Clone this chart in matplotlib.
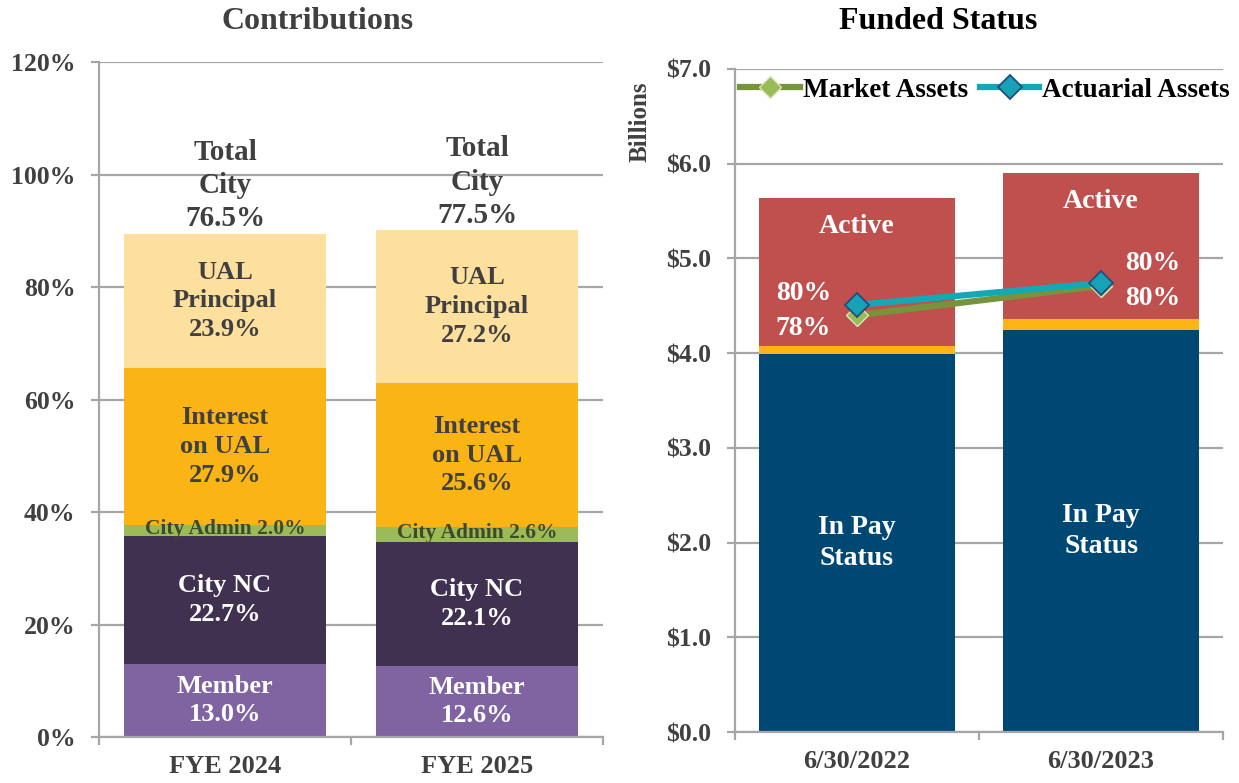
import matplotlib.pyplot as plt
from matplotlib.lines import Line2D
import numpy as np

plt.rcParams['font.family'] = ['Liberation Serif', 'DejaVu Serif']
plt.rcParams['font.weight'] = 'bold'

# ---- Contributions data (percent of pay) ----
years = ['FYE 2024', 'FYE 2025']
member = [13.0, 12.6]
city_nc = [22.7, 22.1]
city_admin = [2.0, 2.6]
interest_ual = [27.9, 25.6]
ual_principal = [23.9, 27.2]
total_city = [76.5, 77.5]

# ---- Funded status data ($ billions) ----
dates = ['6/30/2022', '6/30/2023']
in_pay = [3.99, 4.24]
inactive = [0.09, 0.12]
active = [1.56, 1.545]
market_assets = [4.40, 4.71]
actuarial_assets = [4.51, 4.74]
market_pct = ['78%', '80%']
actuarial_pct = ['80%', '80%']

TXT = '#404040'
GRID = '#A6A6A6'

fig = plt.figure(figsize=(12.39, 7.83), dpi=100)


def style_axes(ax, ypad):
    ax.spines['top'].set_visible(False)
    ax.spines['right'].set_visible(False)
    for s in ('left', 'bottom'):
        ax.spines[s].set_color(GRID)
        ax.spines[s].set_linewidth(1.6)
    ax.grid(axis='y', color=GRID, linewidth=1.6)
    ax.set_axisbelow(True)
    ax.set_xlim(-0.5, 1.5)
    ax.set_xticks([0, 1])
    ax.set_xticks([-0.5, 0.5, 1.5], minor=True)
    ax.tick_params(axis='x', which='major', length=0, pad=13, labelsize=19, labelcolor=TXT)
    ax.tick_params(axis='x', which='minor', length=6, width=1.6, color=GRID)
    ax.tick_params(axis='y', length=6, width=1.6, color=GRID, labelsize=18.5,
                   labelcolor=TXT, pad=ypad)


# ---------------- Left: Contributions ----------------
ax1 = fig.add_axes([0.0799, 0.0587, 0.4068, 0.8621])
style_axes(ax1, 11)
x = np.arange(len(years))
w = 0.8
layers = [
    (member, '#8064A2'),
    (city_nc, '#403151'),
    (city_admin, '#9BBB59'),
    (interest_ual, '#FBB415'),
    (ual_principal, '#FDE09D'),
]
bottom = np.zeros(len(years))
for vals, col in layers:
    ax1.bar(x, vals, w, bottom=bottom, color=col, zorder=2)
    bottom += np.array(vals)
tops = bottom.copy()

ax1.set_ylim(0, 120)
ax1.set_yticks(np.arange(0, 121, 20))
ax1.set_yticklabels([f'{v}%' for v in range(0, 121, 20)])
ax1.set_xticklabels(years)
fig.text(0.2567, 0.973, 'Contributions', ha='center', va='center', fontsize=23, color=TXT)

LS = 1.32
for i in range(len(years)):
    b0 = member[i]
    ax1.text(i, b0 / 2, f'Member\n{member[i]:.1f}%', ha='center', va='center',
             color='white', fontsize=19, linespacing=LS, zorder=3)
    b1 = b0 + city_nc[i]
    ax1.text(i, b0 + city_nc[i] / 2, f'City NC\n{city_nc[i]:.1f}%', ha='center', va='center',
             color='white', fontsize=19, linespacing=LS, zorder=3)
    b2 = b1 + city_admin[i]
    ax1.text(i, b1 + city_admin[i] / 2 + 0.3, f'City Admin {city_admin[i]:.1f}%', ha='center',
             va='center', color='#3F4A2A', fontsize=15.5, zorder=3)
    b3 = b2 + interest_ual[i]
    ax1.text(i, b2 + interest_ual[i] / 2, f'Interest\non UAL\n{interest_ual[i]:.1f}%', ha='center',
             va='center', color=TXT, fontsize=19, linespacing=LS, zorder=3)
    ax1.text(i, b3 + ual_principal[i] / 2, f'UAL\nPrincipal\n{ual_principal[i]:.1f}%', ha='center',
             va='center', color=TXT, fontsize=19, linespacing=LS, zorder=3)
    ax1.text(i, tops[i] + 0.2, f'Total\nCity\n{total_city[i]:.1f}%', ha='center', va='bottom',
             color=TXT, fontsize=21, linespacing=1.3, zorder=3)

# ---------------- Right: Funded Status ----------------
ax2 = fig.add_axes([0.5932, 0.0651, 0.3939, 0.8468])
style_axes(ax2, 11)
x2 = np.arange(len(dates))
ax2.bar(x2, in_pay, w, color='#004874', zorder=2)
ax2.bar(x2, inactive, w, bottom=in_pay, color='#FDB515', zorder=2)
b_act = np.array(in_pay) + np.array(inactive)
ax2.bar(x2, active, w, bottom=b_act, color='#C0504D', zorder=2)
act_tops = b_act + np.array(active)

mkt_style = dict(color='#77933C', linewidth=4.5, marker='D', markersize=11,
                 markerfacecolor='#9BBB59', markeredgecolor='#D7E4BD', markeredgewidth=1)
act_style = dict(color='#14A7B5', linewidth=4.5, marker='D', markersize=12,
                 markerfacecolor='#17A2B8', markeredgecolor='#1F4E79', markeredgewidth=1.3)
ax2.plot(x2, market_assets, zorder=4, **mkt_style)
ax2.plot(x2, actuarial_assets, zorder=5, **act_style)

ax2.set_ylim(0, 7)
ax2.set_yticks(np.arange(0, 7.1, 1))
ax2.set_yticklabels([f'${v:.1f}' for v in np.arange(0, 7.1, 1)])
ax2.set_xticklabels(dates)
fig.text(0.757, 0.973, 'Funded Status', ha='center', va='center', fontsize=23, color='#000000')
fig.text(0.5170, 0.845, 'Billions', rotation=90, ha='center', va='center', fontsize=18, color=TXT)

for i in range(len(dates)):
    ax2.text(i, in_pay[i] / 2, 'In Pay\nStatus', ha='center', va='center', color='white',
             fontsize=20, linespacing=1.3, zorder=3)
    ax2.text(i, act_tops[i] - 0.3, 'Active', ha='center', va='center', color='white',
             fontsize=20, zorder=3)

ax2.text(-0.22, 4.63, actuarial_pct[0], ha='center', va='center', color='white', fontsize=20, zorder=6)
ax2.text(-0.22, 4.26, market_pct[0], ha='center', va='center', color='white', fontsize=20, zorder=6)
ax2.text(1.21, 4.95, actuarial_pct[1], ha='center', va='center', color='white', fontsize=20, zorder=6)
ax2.text(1.21, 4.58, market_pct[1], ha='center', va='center', color='white', fontsize=20, zorder=6)

handles = [Line2D([0], [0], **mkt_style), Line2D([0], [0], **act_style)]
fig.legend(handles, ['Market Assets', 'Actuarial Assets'], loc='center',
           bbox_to_anchor=(0.795, 0.885), ncol=2, frameon=False, fontsize=19.5,
           handlelength=2.2, handletextpad=0.1, columnspacing=0.45, borderpad=0)

fig.savefig('out.png', dpi=100)
